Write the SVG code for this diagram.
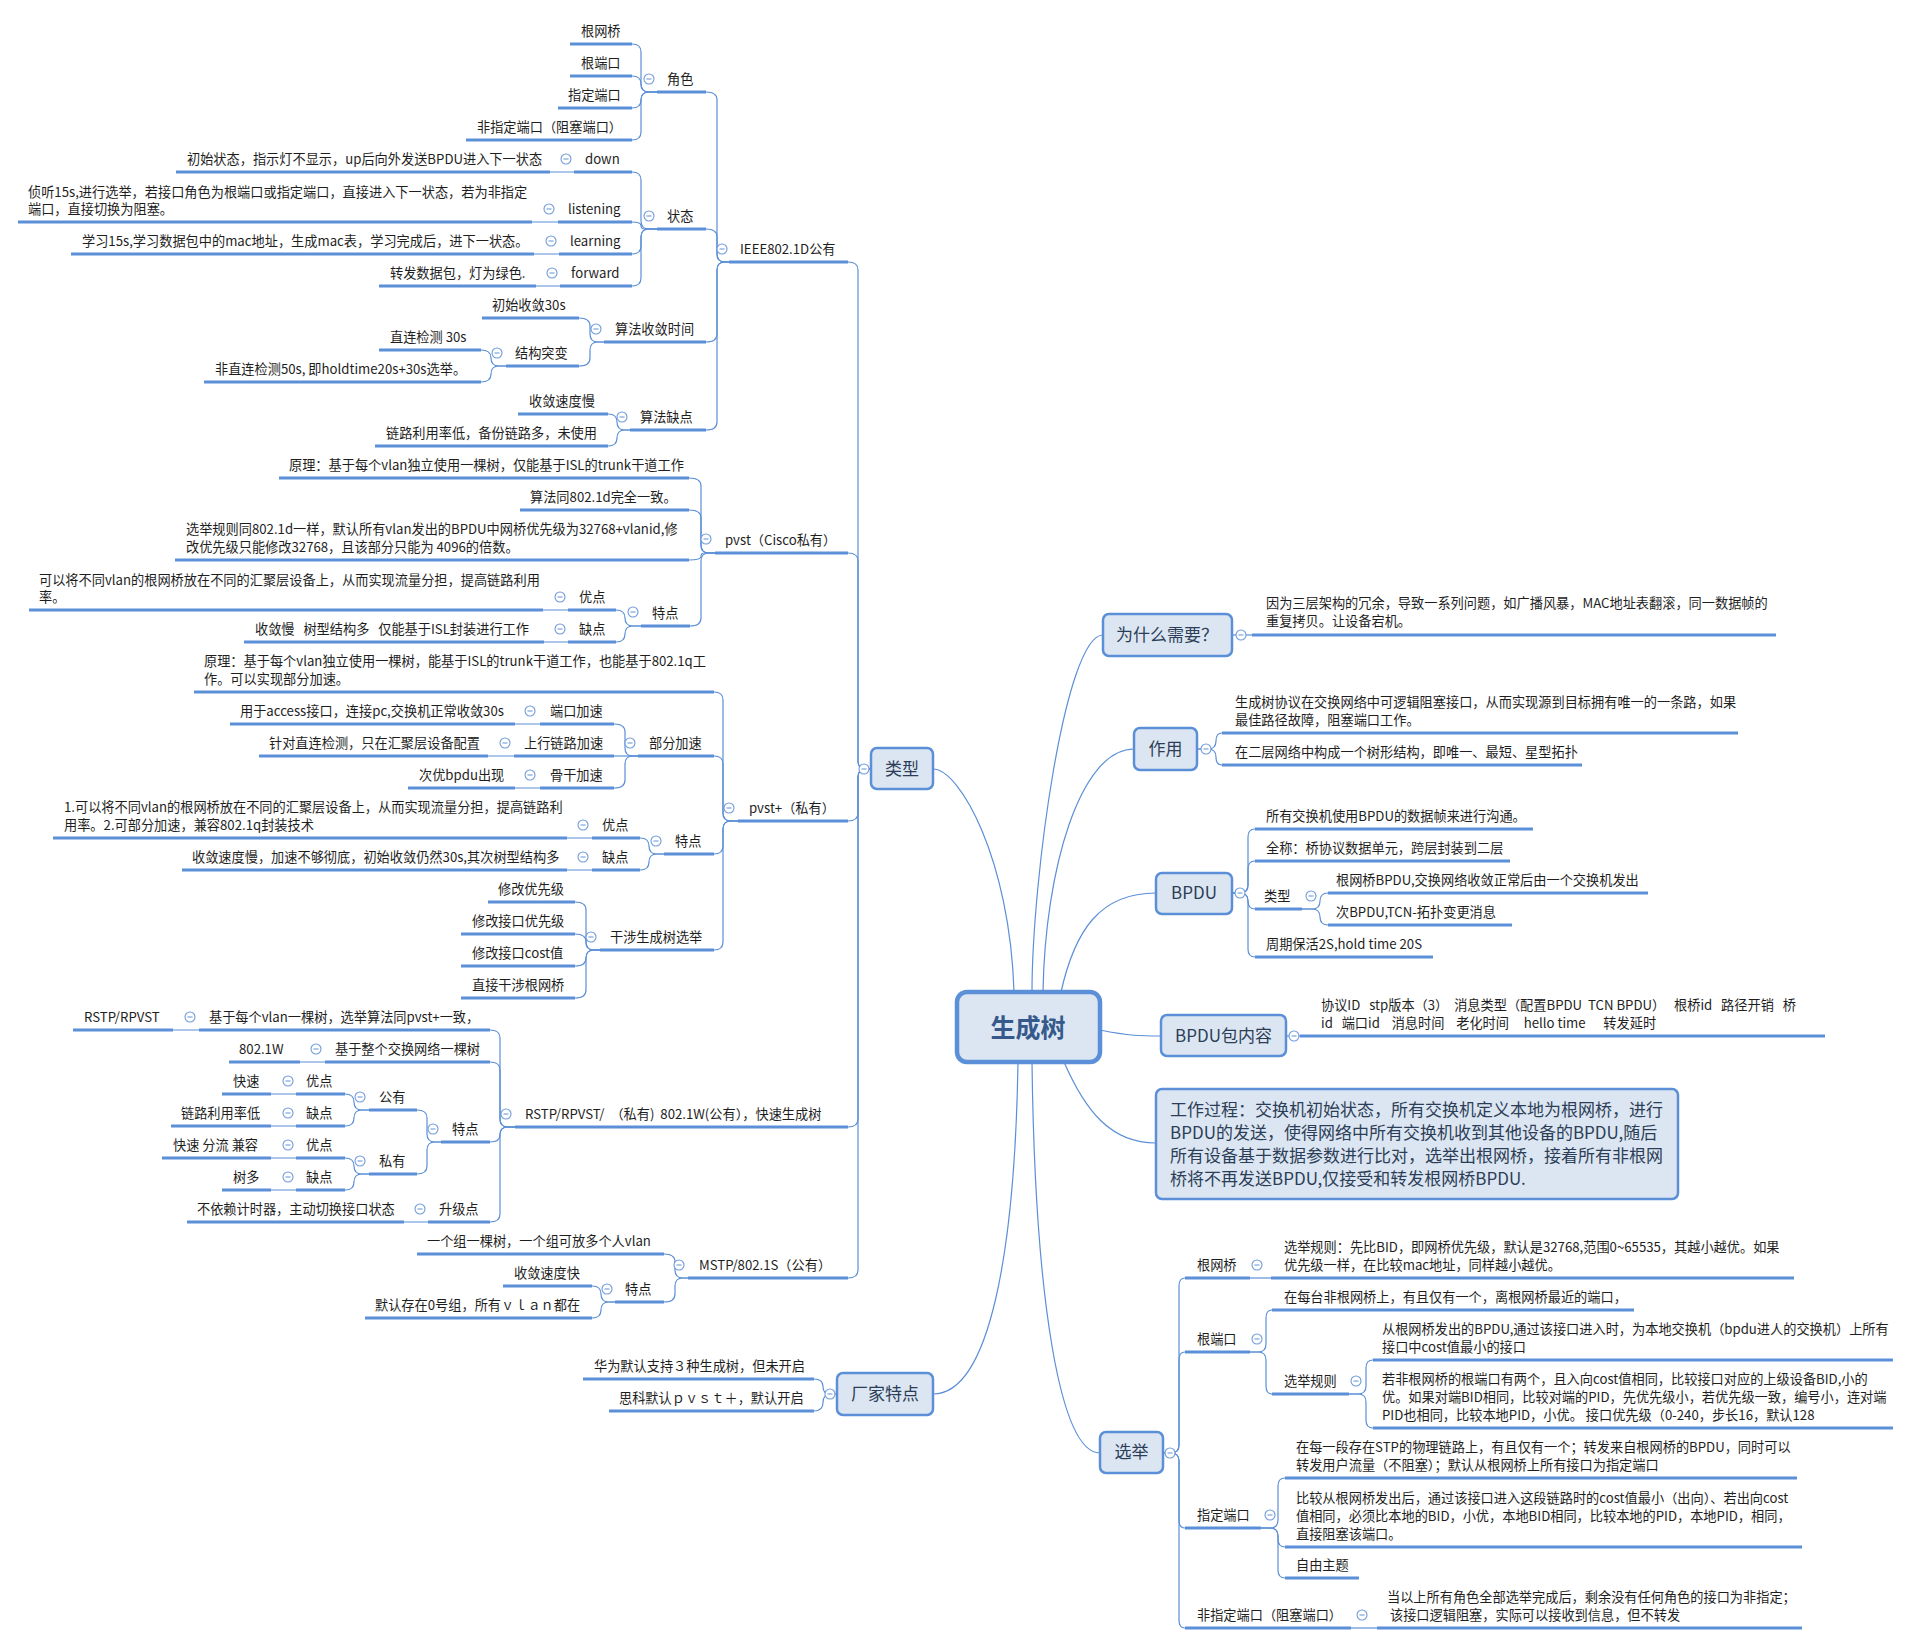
<svg xmlns="http://www.w3.org/2000/svg" xmlns:xlink="http://www.w3.org/1999/xlink" width="1912" height="1645" viewBox="0 0 1912 1645">
<style>
text{font-family:'Noto Sans CJK SC','Noto Sans',sans-serif;font-size:13.2px;fill:#1e1e1e}
.bl{font-size:17px;fill:#2c3e57;text-anchor:middle}
.wt{font-size:17px;fill:#2c3e57}
.ct{font-size:25px;font-weight:bold;fill:#35598a;text-anchor:middle}
.u{stroke:#5b8fd7;stroke-width:3;fill:none}
.c{stroke:#5b8fd7;stroke-width:1.2;fill:none}
.bx{fill:#dce6f2;stroke:#5b8fd7;stroke-width:2.5}
.cbx{fill:#dce6f2;stroke:#5b8fd7;stroke-width:4.5}
</style>
<defs>
<g id="mi"><circle r="5" fill="#fff" stroke="#6f9bd9" stroke-width="1.1"/><line x1="-2.5" x2="2.5" y1="0" y2="0" stroke="#6f9bd9" stroke-width="1.1"/></g>
</defs>
<rect width="1912" height="1645" fill="#fff"/>

<g id="connectors">
<path class="c" d="M933,769 C960,769 1010,860 1014,992"/>
<path class="c" d="M1032,992 C1032,880 1065,635 1103,635"/>
<path class="c" d="M1043,992 C1045,870 1080,749 1134,749"/>
<path class="c" d="M1061,992 C1075,930 1100,893 1156,893"/>
<path class="c" d="M1100,1030 C1130,1036 1140,1036 1161,1036"/>
<path class="c" d="M1064,1062 C1085,1110 1110,1143 1156,1143"/>
<path class="c" d="M1018,1062 C1015,1250 990,1394 933,1394"/>
<path class="c" d="M1032,1062 C1035,1300 1060,1453 1100,1453"/>
<path class="c" d="M848,262 Q858,262 858,270 L858,761 Q858,769 866,769 L871,769"/>
<path class="c" d="M848,553 Q858,553 858,561 L858,761 Q858,769 866,769 L871,769"/>
<path class="c" d="M848,821 Q858,821 858,813 L858,777 Q858,769 866,769 L871,769"/>
<path class="c" d="M848,1127 Q858,1127 858,1119 L858,777 Q858,769 866,769 L871,769"/>
<path class="c" d="M848,1278 Q858,1278 858,1270 L858,777 Q858,769 866,769 L871,769"/>
<path class="c" d="M706,92 Q717,92 717,100 L717,254 Q717,262 725,262 L729,262"/>
<path class="c" d="M706,229 Q717,229 717,237 L717,254 Q717,262 725,262 L729,262"/>
<path class="c" d="M706,342 Q717,342 717,334 L717,270 Q717,262 725,262 L729,262"/>
<path class="c" d="M706,430 Q717,430 717,422 L717,270 Q717,262 725,262 L729,262"/>
<path class="c" d="M632,44 Q641,44 641,52 L641,84 Q641,92 649,92 L657,92"/>
<path class="c" d="M632,76 Q641,76 641,84 Q641,92 649,92 L657,92"/>
<path class="c" d="M632,108 Q641,108 641,100 Q641,92 649,92 L657,92"/>
<path class="c" d="M632,140 Q641,140 641,132 L641,100 Q641,92 649,92 L657,92"/>
<path class="c" d="M632,172 Q641,172 641,180 L641,221 Q641,229 649,229 L657,229"/>
<path class="c" d="M632,222 Q641,222 641,225.5 Q641,229 644.5,229 L657,229"/>
<path class="c" d="M632,254 Q641,254 641,246 L641,237 Q641,229 649,229 L657,229"/>
<path class="c" d="M632,286 Q641,286 641,278 L641,237 Q641,229 649,229 L657,229"/>
<path class="c" d="M550,172 L574,172 M532,222 L558,222 M534,254 L559,254 M536,286 L560,286"/>
<path class="c" d="M579,318 Q590,318 590,326 L590,334 Q590,342 598,342 L604,342"/>
<path class="c" d="M579,366 Q590,366 590,358 L590,350 Q590,342 598,342 L604,342"/>
<path class="c" d="M481,350 Q491,350 491,358 Q491,366 499,366 L506,366"/>
<path class="c" d="M481,382 Q491,382 491,374 Q491,366 499,366 L506,366"/>
<path class="c" d="M608,414 Q617,414 617,422 Q617,430 625,430 L630,430"/>
<path class="c" d="M608,446 Q617,446 617,438 Q617,430 625,430 L630,430"/>
<path class="c" d="M689,478 Q701,478 701,486 L701,545 Q701,553 709,553 L715,553"/>
<path class="c" d="M689,510 Q701,510 701,518 L701,545 Q701,553 709,553 L715,553"/>
<path class="c" d="M689,560 Q701,560 701,556.5 Q701,553 704.5,553 L715,553"/>
<path class="c" d="M690,626 Q701,626 701,618 L701,561 Q701,553 709,553 L715,553"/>
<path class="c" d="M616,610 Q625,610 625,618 Q625,626 633,626 L641,626"/>
<path class="c" d="M616,642 Q625,642 625,634 Q625,626 633,626 L641,626"/>
<path class="c" d="M543,610 L568,610 M544,642 L568,642"/>
<path class="c" d="M714,692 Q723,692 723,700 L723,813 Q723,821 731,821 L738,821"/>
<path class="c" d="M714,756 Q723,756 723,764 L723,813 Q723,821 731,821 L738,821"/>
<path class="c" d="M714,854 Q723,854 723,846 L723,829 Q723,821 731,821 L738,821"/>
<path class="c" d="M714,950 Q723,950 723,942 L723,829 Q723,821 731,821 L738,821"/>
<path class="c" d="M614,724 Q625,724 625,732 L625,748 Q625,756 633,756 L638,756"/>
<path class="c" d="M614,756 L638,756"/>
<path class="c" d="M614,788 Q625,788 625,780 L625,764 Q625,756 633,756 L638,756"/>
<path class="c" d="M515,724 L540,724 M488,756 L514,756 M515,788 L540,788"/>
<path class="c" d="M640,838 Q649,838 649,846 Q649,854 657,854 L664,854"/>
<path class="c" d="M640,870 Q649,870 649,862 Q649,854 657,854 L664,854"/>
<path class="c" d="M567,838 L592,838 M567,870 L592,870"/>
<path class="c" d="M575,902 Q586,902 586,910 L586,942 Q586,950 594,950 L600,950"/>
<path class="c" d="M575,934 Q586,934 586,942 Q586,950 594,950 L600,950"/>
<path class="c" d="M575,966 Q586,966 586,958 Q586,950 594,950 L600,950"/>
<path class="c" d="M575,998 Q586,998 586,990 L586,958 Q586,950 594,950 L600,950"/>
<path class="c" d="M490,1030 Q500,1030 500,1038 L500,1119 Q500,1127 508,1127 L515,1127"/>
<path class="c" d="M490,1062 Q500,1062 500,1070 L500,1119 Q500,1127 508,1127 L515,1127"/>
<path class="c" d="M490,1142 Q500,1142 500,1134.5 Q500,1127 507.5,1127 L515,1127"/>
<path class="c" d="M490,1222 Q500,1222 500,1214 L500,1135 Q500,1127 508,1127 L515,1127"/>
<path class="c" d="M173,1030 L199,1030 M300,1062 L325,1062 M404,1222 L428,1222"/>
<path class="c" d="M417,1110 Q427,1110 427,1118 L427,1134 Q427,1142 435,1142 L441,1142"/>
<path class="c" d="M417,1174 Q427,1174 427,1166 L427,1150 Q427,1142 435,1142 L441,1142"/>
<path class="c" d="M345,1094 Q354,1094 354,1102 Q354,1110 362,1110 L369,1110"/>
<path class="c" d="M345,1126 Q354,1126 354,1118 Q354,1110 362,1110 L369,1110"/>
<path class="c" d="M345,1158 Q354,1158 354,1166 Q354,1174 362,1174 L369,1174"/>
<path class="c" d="M345,1190 Q354,1190 354,1182 Q354,1174 362,1174 L369,1174"/>
<path class="c" d="M271,1094 L296,1094 M271,1126 L296,1126 M271,1158 L296,1158 M271,1190 L296,1190"/>
<path class="c" d="M664,1254 Q675,1254 675,1262 L675,1270 Q675,1278 683,1278 L688,1278"/>
<path class="c" d="M664,1302 Q675,1302 675,1294 L675,1286 Q675,1278 683,1278 L688,1278"/>
<path class="c" d="M592,1286 Q601,1286 601,1294 Q601,1302 609,1302 L615,1302"/>
<path class="c" d="M592,1318 Q601,1318 601,1310 Q601,1302 609,1302 L615,1302"/>
<path class="c" d="M814,1379 Q823,1379 823,1386.5 Q823,1394 830.5,1394 L837,1394"/>
<path class="c" d="M814,1411 Q823,1411 823,1402.5 Q823,1394 831.5,1394 L837,1394"/>
<path class="c" d="M1232,635 L1252,635"/>
<path class="c" d="M1222,733 Q1216,733 1216,741 Q1216,749 1208,749 L1197,749"/>
<path class="c" d="M1222,765 Q1216,765 1216,757 Q1216,749 1208,749 L1197,749"/>
<path class="c" d="M1255,829 Q1248,829 1248,837 L1248,885 Q1248,893 1240,893 L1232,893"/>
<path class="c" d="M1255,861 Q1248,861 1248,869 L1248,885 Q1248,893 1240,893 L1232,893"/>
<path class="c" d="M1255,909 Q1248,909 1248,901 Q1248,893 1240,893 L1232,893"/>
<path class="c" d="M1255,957 Q1248,957 1248,949 L1248,901 Q1248,893 1240,893 L1232,893"/>
<path class="c" d="M1328,893 Q1320,893 1320,901 Q1320,909 1312,909 L1302,909"/>
<path class="c" d="M1328,925 Q1320,925 1320,917 Q1320,909 1312,909 L1302,909"/>
<path class="c" d="M1286,1036 L1300,1036"/>
<path class="c" d="M1185,1278 Q1179,1278 1179,1286 L1179,1445 Q1179,1453 1171,1453 L1163,1453"/>
<path class="c" d="M1185,1352 Q1179,1352 1179,1360 L1179,1445 Q1179,1453 1171,1453 L1163,1453"/>
<path class="c" d="M1185,1528 Q1179,1528 1179,1520 L1179,1461 Q1179,1453 1171,1453 L1163,1453"/>
<path class="c" d="M1185,1628 Q1179,1628 1179,1620 L1179,1461 Q1179,1453 1171,1453 L1163,1453"/>
<path class="c" d="M1250,1278 L1271,1278"/>
<path class="c" d="M1272,1310 Q1266,1310 1266,1318 L1266,1344 Q1266,1352 1258,1352 L1250,1352"/>
<path class="c" d="M1272,1394 Q1266,1394 1266,1386 L1266,1360 Q1266,1352 1258,1352 L1250,1352"/>
<path class="c" d="M1373,1360 Q1366,1360 1366,1368 L1366,1386 Q1366,1394 1358,1394 L1349,1394"/>
<path class="c" d="M1373,1428 Q1366,1428 1366,1420 L1366,1402 Q1366,1394 1358,1394 L1349,1394"/>
<path class="c" d="M1285,1478 Q1278,1478 1278,1486 L1278,1520 Q1278,1528 1270,1528 L1261,1528"/>
<path class="c" d="M1285,1547 Q1278,1547 1278,1539 L1278,1536 Q1278,1528 1270,1528 L1261,1528"/>
<path class="c" d="M1285,1578 Q1278,1578 1278,1570 L1278,1536 Q1278,1528 1270,1528 L1261,1528"/>
<path class="c" d="M1351,1628 L1377,1628"/>
</g>

<g id="n-root">
<rect class="cbx" x="957" y="992" width="143" height="70" rx="10"/>
<text class="ct" x="1028" y="1037">生成树</text>
</g>

<g id="n-leixing"><rect class="bx" x="871" y="748" width="62" height="41" rx="6"/><text class="bl" x="902" y="775">类型</text><use href="#mi" x="864" y="769"/></g>
<g id="n-why"><rect class="bx" x="1103" y="614" width="129" height="42" rx="6"/><text class="bl" x="1167" y="641">为什么需要？</text><use href="#mi" x="1241" y="635"/></g>
<g id="n-zuoyong"><rect class="bx" x="1134" y="728" width="63" height="42" rx="6"/><text class="bl" x="1165.5" y="755">作用</text><use href="#mi" x="1206" y="749"/></g>
<g id="n-bpdu"><rect class="bx" x="1156" y="873" width="76" height="41" rx="6"/><text class="bl" x="1194" y="899">BPDU</text><use href="#mi" x="1240" y="893"/></g>
<g id="n-bpdubao"><rect class="bx" x="1161" y="1015" width="125" height="41" rx="6"/><text class="bl" x="1223.5" y="1042">BPDU包内容</text><use href="#mi" x="1294" y="1036"/></g>
<g id="n-work"><rect class="bx" x="1156" y="1089" width="522" height="110" rx="6"/>
<text class="wt" x="1170" y="1116">工作过程：交换机初始状态，所有交换机定义本地为根网桥，进行</text>
<text class="wt" x="1170" y="1139">BPDU的发送，使得网络中所有交换机收到其他设备的BPDU,随后</text>
<text class="wt" x="1170" y="1162">所有设备基于数据参数进行比对，选举出根网桥，接着所有非根网</text>
<text class="wt" x="1170" y="1185">桥将不再发送BPDU,仅接受和转发根网桥BPDU.</text></g>
<g id="n-xuanju"><rect class="bx" x="1100" y="1432" width="63" height="41" rx="6"/><text class="bl" x="1131.5" y="1458">选举</text><use href="#mi" x="1170" y="1453"/></g>
<g id="n-changjia"><rect class="bx" x="837" y="1373" width="96" height="42" rx="6"/><text class="bl" x="885" y="1400">厂家特点</text><use href="#mi" x="830" y="1394"/></g>

<g id="n-ieee"><text x="740" y="254">IEEE802.1D公有</text><path class="u" d="M729,262H848"/><use href="#mi" x="722" y="249"/></g>
<g id="n-juese"><text x="667" y="84">角色</text><path class="u" d="M657,92H706"/><use href="#mi" x="649" y="79"/></g>
<g id="n-r1"><text x="581" y="36">根网桥</text><path class="u" d="M570,44H632"/></g>
<g id="n-r2"><text x="581" y="68">根端口</text><path class="u" d="M570,76H632"/></g>
<g id="n-r3"><text x="568" y="100">指定端口</text><path class="u" d="M558,108H632"/></g>
<g id="n-r4"><text x="477" y="132">非指定端口（阻塞端口）</text><path class="u" d="M466,140H632"/></g>
<g id="n-zhuangtai"><text x="667" y="221">状态</text><path class="u" d="M657,229H706"/><use href="#mi" x="649" y="216"/></g>
<g id="n-down"><text x="585" y="164">down</text><path class="u" d="M574,172H632"/><use href="#mi" x="566" y="159"/></g>
<g id="n-down-d"><text x="187" y="164">初始状态，指示灯不显示，up后向外发送BPDU进入下一状态</text><path class="u" d="M176,172H550"/></g>
<g id="n-listen"><text x="568" y="214">listening</text><path class="u" d="M558,222H632"/><use href="#mi" x="549" y="209"/></g>
<g id="n-listen-d"><text x="28" y="197">侦听15s,进行选举，若接口角色为根端口或指定端口，直接进入下一状态，若为非指定</text><text x="28" y="214">端口，直接切换为阻塞。</text><path class="u" d="M18,222H532"/></g>
<g id="n-learn"><text x="570" y="246">learning</text><path class="u" d="M559,254H632"/><use href="#mi" x="551" y="241"/></g>
<g id="n-learn-d"><text x="82" y="246">学习15s,学习数据包中的mac地址，生成mac表，学习完成后，进下一状态。</text><path class="u" d="M71,254H534"/></g>
<g id="n-fwd"><text x="571" y="278">forward</text><path class="u" d="M560,286H632"/><use href="#mi" x="552" y="273"/></g>
<g id="n-fwd-d"><text x="390" y="278">转发数据包，灯为绿色.</text><path class="u" d="M379,286H536"/></g>
<g id="n-slsj"><text x="615" y="334">算法收敛时间</text><path class="u" d="M604,342H706"/><use href="#mi" x="596" y="329"/></g>
<g id="n-cs30"><text x="492" y="310">初始收敛30s</text><path class="u" d="M482,318H579"/></g>
<g id="n-jgtb"><text x="515" y="358">结构突变</text><path class="u" d="M506,366H579"/><use href="#mi" x="497" y="353"/></g>
<g id="n-zl30"><text x="390" y="342" xml:space="preserve">直连检测 30s</text><path class="u" d="M379,350H481"/></g>
<g id="n-fzl"><text x="215" y="374">非直连检测50s, 即holdtime20s+30s选举。</text><path class="u" d="M204,382H481"/></g>
<g id="n-sfqd"><text x="640" y="422">算法缺点</text><path class="u" d="M630,430H706"/><use href="#mi" x="622" y="417"/></g>
<g id="n-slman"><text x="529" y="406">收敛速度慢</text><path class="u" d="M518,414H608"/></g>
<g id="n-llly"><text x="386" y="438">链路利用率低，备份链路多，未使用</text><path class="u" d="M375,446H608"/></g>

<g id="n-pvst"><text x="725" y="545">pvst（Cisco私有）</text><path class="u" d="M715,553H848"/><use href="#mi" x="706" y="539"/></g>
<g id="n-pvst-1"><text x="289" y="470">原理：基于每个vlan独立使用一棵树，仅能基于ISL的trunk干道工作</text><path class="u" d="M279,478H689"/></g>
<g id="n-pvst-2"><text x="530" y="502">算法同802.1d完全一致。</text><path class="u" d="M520,510H689"/></g>
<g id="n-pvst-3"><text x="186" y="534">选举规则同802.1d一样，默认所有vlan发出的BPDU中网桥优先级为32768+vlanid,修</text><text x="186" y="552">改优先级只能修改32768，且该部分只能为 4096的倍数。</text><path class="u" d="M175,560H689"/></g>
<g id="n-pvst-td"><text x="652" y="618">特点</text><path class="u" d="M641,626H690"/><use href="#mi" x="633" y="612"/></g>
<g id="n-pvst-yd"><text x="579" y="602">优点</text><path class="u" d="M568,610H616"/><use href="#mi" x="560" y="597"/></g>
<g id="n-pvst-yd-d"><text x="39" y="585">可以将不同vlan的根网桥放在不同的汇聚层设备上，从而实现流量分担，提高链路利用</text><text x="39" y="602">率。</text><path class="u" d="M29,610H543"/></g>
<g id="n-pvst-qd"><text x="579" y="634">缺点</text><path class="u" d="M568,642H616"/><use href="#mi" x="560" y="629"/></g>
<g id="n-pvst-qd-d"><text x="255" y="634" xml:space="preserve">收敛慢   树型结构多   仅能基于ISL封装进行工作</text><path class="u" d="M244,642H544"/></g>

<g id="n-pvstp"><text x="749" y="813">pvst+（私有）</text><path class="u" d="M738,821H848"/><use href="#mi" x="729" y="808"/></g>
<g id="n-pvstp-1"><text x="204" y="666">原理：基于每个vlan独立使用一棵树，能基于ISL的trunk干道工作，也能基于802.1q工</text><text x="204" y="684">作。可以实现部分加速。</text><path class="u" d="M194,692H714"/></g>
<g id="n-bfjs"><text x="649" y="748">部分加速</text><path class="u" d="M638,756H714"/><use href="#mi" x="630" y="743"/></g>
<g id="n-dkjs"><text x="550" y="716">端口加速</text><path class="u" d="M540,724H614"/><use href="#mi" x="530" y="711"/></g>
<g id="n-dkjs-d"><text x="240" y="716">用于access接口，连接pc,交换机正常收敛30s</text><path class="u" d="M230,724H515"/></g>
<g id="n-sxll"><text x="524" y="748">上行链路加速</text><path class="u" d="M514,756H614"/><use href="#mi" x="505" y="743"/></g>
<g id="n-sxll-d"><text x="269" y="748">针对直连检测，只在汇聚层设备配置</text><path class="u" d="M259,756H488"/></g>
<g id="n-ggjs"><text x="550" y="780">骨干加速</text><path class="u" d="M540,788H614"/><use href="#mi" x="530" y="775"/></g>
<g id="n-ggjs-d"><text x="419" y="780">次优bpdu出现</text><path class="u" d="M408,788H515"/></g>
<g id="n-pvstp-td"><text x="675" y="846">特点</text><path class="u" d="M664,854H714"/><use href="#mi" x="656" y="841"/></g>
<g id="n-pvstp-yd"><text x="602" y="830">优点</text><path class="u" d="M592,838H640"/><use href="#mi" x="583" y="825"/></g>
<g id="n-pvstp-yd-d"><text x="64" y="812">1.可以将不同vlan的根网桥放在不同的汇聚层设备上，从而实现流量分担，提高链路利</text><text x="64" y="830">用率。2.可部分加速，兼容802.1q封装技术</text><path class="u" d="M53,838H567"/></g>
<g id="n-pvstp-qd"><text x="602" y="862">缺点</text><path class="u" d="M592,870H640"/><use href="#mi" x="583" y="857"/></g>
<g id="n-pvstp-qd-d"><text x="192" y="862">收敛速度慢，加速不够彻底，初始收敛仍然30s,其次树型结构多</text><path class="u" d="M182,870H567"/></g>
<g id="n-gs"><text x="610" y="942">干涉生成树选举</text><path class="u" d="M600,950H714"/><use href="#mi" x="591" y="937"/></g>
<g id="n-gs-1"><text x="498" y="894">修改优先级</text><path class="u" d="M488,902H575"/></g>
<g id="n-gs-2"><text x="472" y="926">修改接口优先级</text><path class="u" d="M461,934H575"/></g>
<g id="n-gs-3"><text x="472" y="958">修改接口cost值</text><path class="u" d="M461,966H575"/></g>
<g id="n-gs-4"><text x="472" y="990">直接干涉根网桥</text><path class="u" d="M461,998H575"/></g>

<g id="n-rstp"><text x="525" y="1119" xml:space="preserve">RSTP/RPVST/  （私有)  802.1W(公有），快速生成树</text><path class="u" d="M515,1127H848"/><use href="#mi" x="506" y="1114"/></g>
<g id="n-rstp-1"><text x="209" y="1022">基于每个vlan一棵树，选举算法同pvst+一致，</text><path class="u" d="M199,1030H490"/><use href="#mi" x="190" y="1017"/></g>
<g id="n-rstp-1a"><text x="84" y="1022">RSTP/RPVST</text><path class="u" d="M73,1030H173"/></g>
<g id="n-rstp-2"><text x="335" y="1054">基于整个交换网络一棵树</text><path class="u" d="M325,1062H490"/><use href="#mi" x="316" y="1049"/></g>
<g id="n-rstp-2a"><text x="239" y="1054">802.1W</text><path class="u" d="M229,1062H300"/></g>
<g id="n-rstp-td"><text x="452" y="1134">特点</text><path class="u" d="M441,1142H490"/><use href="#mi" x="433" y="1129"/></g>
<g id="n-gongyou"><text x="379" y="1102">公有</text><path class="u" d="M369,1110H417"/><use href="#mi" x="360" y="1097"/></g>
<g id="n-gy-yd"><text x="306" y="1086">优点</text><path class="u" d="M296,1094H345"/><use href="#mi" x="288" y="1081"/></g>
<g id="n-gy-yd-d"><text x="233" y="1086">快速</text><path class="u" d="M222,1094H271"/></g>
<g id="n-gy-qd"><text x="306" y="1118">缺点</text><path class="u" d="M296,1126H345"/><use href="#mi" x="288" y="1113"/></g>
<g id="n-gy-qd-d"><text x="181" y="1118">链路利用率低</text><path class="u" d="M171,1126H271"/></g>
<g id="n-siyou"><text x="379" y="1166">私有</text><path class="u" d="M369,1174H417"/><use href="#mi" x="360" y="1161"/></g>
<g id="n-sy-yd"><text x="306" y="1150">优点</text><path class="u" d="M296,1158H345"/><use href="#mi" x="288" y="1145"/></g>
<g id="n-sy-yd-d"><text x="173" y="1150" xml:space="preserve">快速 分流 兼容</text><path class="u" d="M162,1158H271"/></g>
<g id="n-sy-qd"><text x="306" y="1182">缺点</text><path class="u" d="M296,1190H345"/><use href="#mi" x="288" y="1177"/></g>
<g id="n-sy-qd-d"><text x="233" y="1182">树多</text><path class="u" d="M222,1190H271"/></g>
<g id="n-sjd"><text x="439" y="1214">升级点</text><path class="u" d="M428,1222H490"/><use href="#mi" x="420" y="1209"/></g>
<g id="n-sjd-d"><text x="197" y="1214">不依赖计时器，主动切换接口状态</text><path class="u" d="M187,1222H404"/></g>

<g id="n-mstp"><text x="699" y="1270">MSTP/802.1S（公有）</text><path class="u" d="M688,1278H848"/><use href="#mi" x="679" y="1265"/></g>
<g id="n-mstp-1"><text x="427" y="1246">一个组一棵树，一个组可放多个人vlan</text><path class="u" d="M417,1254H664"/></g>
<g id="n-mstp-td"><text x="625" y="1294">特点</text><path class="u" d="M615,1302H664"/><use href="#mi" x="607" y="1289"/></g>
<g id="n-mstp-td1"><text x="514" y="1278">收敛速度快</text><path class="u" d="M503,1286H592"/></g>
<g id="n-mstp-td2"><text x="375" y="1310">默认存在0号组，所有ｖｌａｎ都在</text><path class="u" d="M365,1318H592"/></g>

<g id="n-cj-1"><text x="594" y="1371">华为默认支持３种生成树，但未开启</text><path class="u" d="M583,1379H814"/></g>
<g id="n-cj-2"><text x="619" y="1403">思科默认ｐｖｓｔ＋，默认开启</text><path class="u" d="M609,1411H814"/></g>

<g id="n-why-d"><text x="1266" y="608">因为三层架构的冗余，导致一系列问题，如广播风暴，MAC地址表翻滚，同一数据帧的</text><text x="1266" y="626">重复拷贝。让设备宕机。</text><path class="u" d="M1252,635H1776"/></g>
<g id="n-zy-1"><text x="1235" y="707">生成树协议在交换网络中可逻辑阻塞接口，从而实现源到目标拥有唯一的一条路，如果</text><text x="1235" y="725">最佳路径故障，阻塞端口工作。</text><path class="u" d="M1222,733H1738"/></g>
<g id="n-zy-2"><text x="1235" y="757">在二层网络中构成一个树形结构，即唯一、最短、星型拓扑</text><path class="u" d="M1222,765H1582"/></g>
<g id="n-bp-1"><text x="1266" y="821">所有交换机使用BPDU的数据帧来进行沟通。</text><path class="u" d="M1255,829H1533"/></g>
<g id="n-bp-2"><text x="1266" y="853">全称：桥协议数据单元，跨层封装到二层</text><path class="u" d="M1255,861H1510"/></g>
<g id="n-bp-3"><text x="1264" y="901">类型</text><path class="u" d="M1255,909H1302"/><use href="#mi" x="1311" y="896"/></g>
<g id="n-bp-3a"><text x="1336" y="885">根网桥BPDU,交换网络收敛正常后由一个交换机发出</text><path class="u" d="M1328,893H1648"/></g>
<g id="n-bp-3b"><text x="1336" y="917">次BPDU,TCN-拓扑变更消息</text><path class="u" d="M1328,925H1512"/></g>
<g id="n-bp-4"><text x="1266" y="949">周期保活2S,hold time 20S</text><path class="u" d="M1255,957H1433"/></g>
<g id="n-bpb-d"><text x="1321" y="1010" xml:space="preserve">协议ID   stp版本（3）  消息类型（配置BPDU  TCN BPDU）   根桥id   路径开销   桥</text><text x="1321" y="1028" xml:space="preserve">id   端口id    消息时间    老化时间     hello time      转发延时</text><path class="u" d="M1300,1036H1825"/></g>

<g id="n-xj-gwq"><text x="1197" y="1270">根网桥</text><path class="u" d="M1185,1278H1250"/><use href="#mi" x="1257" y="1265"/></g>
<g id="n-xj-gwq-d"><text x="1284" y="1252">选举规则：先比BID，即网桥优先级，默认是32768,范围0~65535，其越小越优。如果</text><text x="1284" y="1270">优先级一样，在比较mac地址，同样越小越优。</text><path class="u" d="M1271,1278H1794"/></g>
<g id="n-xj-gdk"><text x="1197" y="1344">根端口</text><path class="u" d="M1185,1352H1250"/><use href="#mi" x="1257" y="1339"/></g>
<g id="n-xj-gdk-1"><text x="1284" y="1302">在每台非根网桥上，有且仅有一个，离根网桥最近的端口，</text><path class="u" d="M1272,1310H1634"/></g>
<g id="n-xj-gz"><text x="1284" y="1386">选举规则</text><path class="u" d="M1272,1394H1349"/><use href="#mi" x="1356" y="1381"/></g>
<g id="n-xj-gz-1"><text x="1382" y="1334">从根网桥发出的BPDU,通过该接口进入时，为本地交换机（bpdu进人的交换机）上所有</text><text x="1382" y="1352">接口中cost值最小的接口</text><path class="u" d="M1373,1360H1893"/></g>
<g id="n-xj-gz-2"><text x="1382" y="1384">若非根网桥的根端口有两个，且入向cost值相同，比较接口对应的上级设备BID,小的</text><text x="1382" y="1402">优。如果对端BID相同，比较对端的PID，先优先级小，若优先级一致，编号小，连对端</text><text x="1382" y="1420">PID也相同，比较本地PID，小优。 接口优先级（0-240，步长16，默认128</text><path class="u" d="M1373,1428H1893"/></g>
<g id="n-xj-zd"><text x="1197" y="1520">指定端口</text><path class="u" d="M1185,1528H1261"/><use href="#mi" x="1270" y="1515"/></g>
<g id="n-xj-zd-1"><text x="1296" y="1452">在每一段存在STP的物理链路上，有且仅有一个；转发来自根网桥的BPDU，同时可以</text><text x="1296" y="1470">转发用户流量（不阻塞）；默认从根网桥上所有接口为指定端口</text><path class="u" d="M1285,1478H1797"/></g>
<g id="n-xj-zd-2"><text x="1296" y="1503">比较从根网桥发出后，通过该接口进入这段链路时的cost值最小（出向）、若出向cost</text><text x="1296" y="1521">值相同，必须比本地的BID，小优，本地BID相同，比较本地的PID，本地PID，相同，</text><text x="1296" y="1539">直接阻塞该端口。</text><path class="u" d="M1285,1547H1802"/></g>
<g id="n-xj-zd-3"><text x="1296" y="1570">自由主题</text><path class="u" d="M1285,1578H1359"/></g>
<g id="n-xj-fzd"><text x="1197" y="1620">非指定端口（阻塞端口）</text><path class="u" d="M1185,1628H1351"/><use href="#mi" x="1362" y="1615"/></g>
<g id="n-xj-fzd-d"><text x="1387" y="1602">当以上所有角色全部选举完成后，剩余没有任何角色的接口为非指定；</text><text x="1387" y="1620" xml:space="preserve"> 该接口逻辑阻塞，实际可以接收到信息，但不转发</text><path class="u" d="M1377,1628H1802"/></g>
</svg>
